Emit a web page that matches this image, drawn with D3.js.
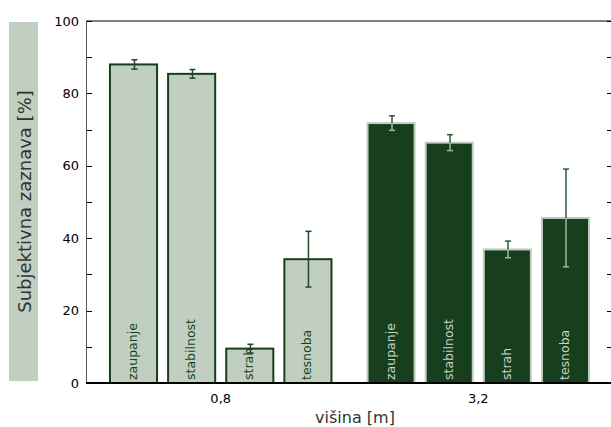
<!DOCTYPE html>
<html>
<head>
<meta charset="utf-8">
<script src="https://cdn.jsdelivr.net/npm/d3@7"></script>
<style>
  html, body { margin: 0; padding: 0; background: #fff; }
  svg { display: block; font-family: "DejaVu Sans", sans-serif; }
</style>
</head>
<body>
<div id="chart"></div>
<script>
// Heights (groups) and perception categories
const heights = ["0,8", "3,2"];
const categories = ["zaupanje", "stabilnost", "strah", "tesnoba"];
// Mean values [%] per height
const values08 = [88.0, 85.4, 9.5, 34.2];
const values32 = [71.8, 66.4, 36.9, 45.6];
// Error (± half-length) per height
const errors08 = [1.3, 1.2, 1.2, 7.7];
const errors32 = [2.0, 2.2, 2.3, 13.5];
const yTicks = [0, 20, 40, 60, 80, 100];
const yMinorTicks = [10, 30, 50, 70, 90];

const W = 611, H = 427;
const margin = { left: 86, right: -2, top: 21, bottom: 44 };
const plotW = W - margin.left - margin.right;
const plotH = H - margin.top - margin.bottom;

const light = "#c0cfc0";
const dark = "#183f1d";

const styles = [
  { fill: light, stroke: dark, text: dark, errAbove: "#1f4a25", errInside: "#1f4a25" },
  { fill: dark, stroke: light, text: "#c6d4c6", errAbove: "#2c5a32", errInside: "#9fb9a0" }
];

const groups = heights.map((h, gi) => ({
  height: h,
  style: styles[gi],
  bars: categories.map((c, i) => ({
    cat: c,
    value: gi === 0 ? values08[i] : values32[i],
    err: gi === 0 ? errors08[i] : errors32[i]
  }))
}));

const svg = d3.select("#chart").append("svg")
  .attr("width", W).attr("height", H);

// y-axis label with shaded box
svg.append("rect")
  .attr("x", 9).attr("y", 22).attr("width", 29).attr("height", 359)
  .attr("fill", light);
svg.append("text")
  .attr("transform", `translate(24,${22 + 359 / 2}) rotate(-90)`)
  .attr("text-anchor", "middle")
  .attr("dominant-baseline", "central")
  .attr("font-size", 18)
  .attr("fill", "#333")
  .text("Subjektivna zaznava [%]");

const g = svg.append("g").attr("transform", `translate(${margin.left},${margin.top})`);

const x0 = d3.scaleBand().domain(heights).range([0, plotW])
  .paddingInner(0.14).paddingOuter(0.093);
const x1 = d3.scaleBand().domain(categories).range([0, x0.bandwidth()])
  .paddingInner(0.19).paddingOuter(0);
const y = d3.scaleLinear().domain([0, 100]).range([plotH, 0]);

// top spine
g.append("line").attr("x1", 0).attr("x2", plotW).attr("y1", 0).attr("y2", 0)
  .attr("stroke", "#000").attr("stroke-width", 1);

// left axis: labelled major ticks, ticks pointing inward
const allTicks = yTicks.concat(yMinorTicks);
g.selectAll(".ytl").data(allTicks).enter().append("line")
  .attr("x1", 0).attr("x2", 6)
  .attr("y1", d => Math.round(y(d)) + 0.5).attr("y2", d => Math.round(y(d)) + 0.5)
  .attr("stroke", "#000");
g.selectAll(".ytr").data(allTicks).enter().append("line")
  .attr("x1", plotW - 6).attr("x2", plotW)
  .attr("y1", d => Math.round(y(d)) + 0.5).attr("y2", d => Math.round(y(d)) + 0.5)
  .attr("stroke", "#000");
g.selectAll(".ylab").data(yTicks).enter().append("text")
  .attr("x", -7).attr("y", d => y(d))
  .attr("text-anchor", "end").attr("dominant-baseline", "central")
  .attr("font-size", 13).attr("fill", "#000")
  .text(d => d);
g.append("line").attr("x1", 0.5).attr("x2", 0.5).attr("y1", 0).attr("y2", plotH)
  .attr("stroke", "#555").attr("stroke-width", 1);

// bars
const gg = g.selectAll(".grp").data(groups).enter().append("g")
  .attr("transform", d => `translate(${x0(d.height)},0)`);

gg.each(function(gd) {
  const sel = d3.select(this);
  const st = gd.style;
  const bw = x1.bandwidth();
  sel.selectAll("rect").data(gd.bars).enter().append("rect")
    .attr("x", d => x1(d.cat)).attr("width", bw)
    .attr("y", d => y(d.value)).attr("height", d => plotH - y(d.value))
    .attr("fill", st.fill).attr("stroke", st.stroke).attr("stroke-width", 2);

  sel.selectAll(".lbl").data(gd.bars).enter().append("text")
    .attr("transform", d => `translate(${x1(d.cat) + bw / 2 - 1},${plotH - 3}) rotate(-90)`)
    .attr("dominant-baseline", "central")
    .attr("font-size", 12.5).attr("fill", st.text)
    .text(d => d.cat);

  // error bars: part above bar top and part inside bar
  gd.bars.forEach(d => {
    const cx = Math.round(x1(d.cat) + bw / 2) + 0.5;
    const yt = y(d.value + d.err), yb = y(d.value - d.err), yv = y(d.value);
    sel.append("line").attr("x1", cx).attr("x2", cx).attr("y1", yt).attr("y2", yv)
      .attr("stroke", st.errAbove).attr("stroke-width", 1.5);
    sel.append("line").attr("x1", cx).attr("x2", cx).attr("y1", yv).attr("y2", yb)
      .attr("stroke", st.errInside).attr("stroke-width", 1.5);
    sel.append("line").attr("x1", cx - 3).attr("x2", cx + 3).attr("y1", yt).attr("y2", yt)
      .attr("stroke", st.errAbove).attr("stroke-width", 1.5);
    sel.append("line").attr("x1", cx - 3).attr("x2", cx + 3).attr("y1", yb).attr("y2", yb)
      .attr("stroke", st.errInside).attr("stroke-width", 1.5);
  });
});

// bottom spine
g.append("line").attr("x1", 0).attr("x2", plotW).attr("y1", plotH).attr("y2", plotH)
  .attr("stroke", "#000").attr("stroke-width", 2);

// x tick labels
g.selectAll(".xl").data(heights).enter().append("text")
  .attr("x", d => x0(d) + x0.bandwidth() / 2).attr("y", plotH + 15)
  .attr("text-anchor", "middle").attr("dominant-baseline", "central")
  .attr("font-size", 13).attr("fill", "#000")
  .text(d => d);

svg.append("text")
  .attr("x", 355).attr("y", 423)
  .attr("text-anchor", "middle")
  .attr("font-size", 16).attr("fill", "#333")
  .text("višina [m]");
</script>
</body>
</html>
